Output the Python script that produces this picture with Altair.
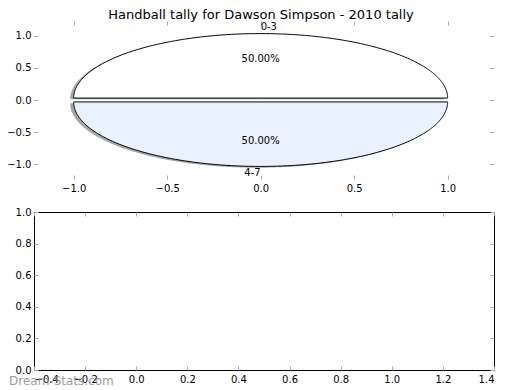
import math
import numpy as np
import pandas as pd
import altair as alt

# ---------------- data ----------------
TITLE = "Handball tally for Dawson Simpson - 2010 tally"
SLICE_LABELS = ["0-3", "4-7"]
SLICE_VALUES = [50, 50]
SLICE_COLORS = ["#ffffff", "#eaf1fe"]
EXPLODE = [0.03, 0.03]
PIE_X_TICKS = [-1.0, -0.5, 0.0, 0.5, 1.0]
PIE_Y_TICKS = [-1.0, -0.5, 0.0, 0.5, 1.0]
EMPTY_X_TICKS = [-0.4, -0.2, 0.0, 0.2, 0.4, 0.6, 0.8, 1.0, 1.2, 1.4]
EMPTY_Y_TICKS = [0.0, 0.2, 0.4, 0.6, 0.8, 1.0]
WATERMARK = "Dream-Stats.com"

# ---------------- styles ----------------
FONT = "DejaVu Sans"
TICK = "#aaaaaa"
W, H = 460, 158
PIE_X_DOMAIN = [-1.212, 1.248]
PIE_Y_DOMAIN = [-1.225, 1.225]

# wedge geometry (matplotlib-style: counter-clockwise from 0 degrees)
total = float(sum(SLICE_VALUES))
fracs = [v / total for v in SLICE_VALUES]
starts = np.concatenate([[0.0], np.cumsum(fracs)[:-1]])
area_rows, line_rows, lab_rows, pct_rows = [], [], [], []
for lab, f, s, ex in zip(SLICE_LABELS, fracs, starts, EXPLODE):
    t0, t1 = 2 * math.pi * s, 2 * math.pi * (s + f)
    mid = (t0 + t1) / 2
    cx, cy = ex * math.cos(mid), ex * math.sin(mid)
    ts = np.linspace(t0, t1, 241)
    for t in ts:
        area_rows.append(dict(slice=lab, x=cx + math.cos(t), y=cy + math.sin(t), y0=cy))
    pts = [(cx, cy)] + [(cx + math.cos(t), cy + math.sin(t)) for t in ts] + [(cx, cy)]
    for k, (px, py) in enumerate(pts):
        line_rows.append(dict(slice=lab, k=k, x=px, y=py))
    lx, ly = cx + 1.1 * math.cos(mid), cy + 1.1 * math.sin(mid)
    lab_rows.append(dict(slice=lab, x=lx, y=ly, side="left" if lx > 0 else "right"))
    pct_rows.append(dict(slice=lab, x=cx + 0.6 * math.cos(mid), y=cy + 0.6 * math.sin(mid),
                         txt=f"{100 * f:.2f}%"))

area_df = pd.DataFrame(area_rows)
line_df = pd.DataFrame(line_rows)
lab_df = pd.DataFrame(lab_rows)
pct_df = pd.DataFrame(pct_rows)


def axis(orient, values, labels=True, fmt=".1f"):
    return alt.Axis(orient=orient, values=values, format=fmt, title=None, grid=False,
                    domain=False, tickColor=TICK, tickSize=4, tickWidth=1, offset=-4,
                    labels=labels, labelPadding=4 if orient == "bottom" else 3,
                    labelFont=FONT, labelFontSize=10, labelColor="black")


pie_sx = alt.Scale(domain=PIE_X_DOMAIN, nice=False, zero=False)
pie_sy = alt.Scale(domain=PIE_Y_DOMAIN, nice=False, zero=False)
PX = alt.X("x:Q", scale=pie_sx, axis=axis("bottom", PIE_X_TICKS))
PY = alt.Y("y:Q", scale=pie_sy, axis=axis("left", PIE_Y_TICKS))
col = alt.Color("slice:N", scale=alt.Scale(domain=SLICE_LABELS, range=SLICE_COLORS), legend=None)

shadow = alt.Chart(area_df).mark_area(color="#4d4d4d", opacity=0.5, xOffset=-3.5,
                                      yOffset=1.3, y2Offset=1.3).encode(
    x=PX, y=PY, y2="y0:Q", detail="slice:N")
wedges = alt.Chart(area_df).mark_area(opacity=1).encode(x=PX, y=PY, y2="y0:Q", color=col)
outline = alt.Chart(line_df).mark_line(color="black", strokeWidth=1).encode(
    x=PX, y=PY, detail="slice:N", order="k:Q")
lab_left = alt.Chart(lab_df).transform_filter(alt.datum.side == "left").mark_text(
    align="left", baseline="middle", font=FONT, fontSize=10, color="black").encode(
    x=PX, y=PY, text="slice:N")
lab_right = alt.Chart(lab_df).transform_filter(alt.datum.side == "right").mark_text(
    align="right", baseline="middle", font=FONT, fontSize=10, color="black").encode(
    x=PX, y=PY, text="slice:N")
pct = alt.Chart(pct_df).mark_text(align="center", baseline="middle", font=FONT,
                                  fontSize=10, color="black").encode(x=PX, y=PY, text="txt:N")

pie_ticks = pd.DataFrame({"x": PIE_X_TICKS, "y": PIE_Y_TICKS})
pie_mirror = alt.Chart(pie_ticks).mark_point(opacity=0).encode(
    x=alt.X("x:Q", scale=pie_sx, axis=axis("top", PIE_X_TICKS, labels=False)),
    y=alt.Y("y:Q", scale=pie_sy, axis=axis("right", PIE_Y_TICKS, labels=False)))

pie_panel = alt.layer(
    alt.layer(shadow, wedges, outline, lab_left, lab_right, pct), pie_mirror
).resolve_scale(x="independent", y="independent").properties(
    width=W, height=H,
    title=alt.TitleParams(TITLE, font=FONT, fontSize=13, fontWeight="normal",
                          color="black", anchor="middle", offset=-1, dx=-3))

# ---------------- empty bottom panel ----------------
e_sx = alt.Scale(domain=[EMPTY_X_TICKS[0], EMPTY_X_TICKS[-1]], nice=False, zero=False)
e_sy = alt.Scale(domain=[EMPTY_Y_TICKS[0], EMPTY_Y_TICKS[-1]], nice=False, zero=False)
empty_df = pd.DataFrame({"x": pd.Series(EMPTY_X_TICKS), "y": pd.Series(EMPTY_Y_TICKS)})
empty_main = alt.Chart(empty_df).mark_point(opacity=0).encode(
    x=alt.X("x:Q", scale=e_sx, axis=axis("bottom", EMPTY_X_TICKS)),
    y=alt.Y("y:Q", scale=e_sy, axis=axis("left", EMPTY_Y_TICKS)))
wm = alt.Chart(pd.DataFrame({"t": [WATERMARK]})).mark_text(
    align="left", baseline="middle", font=FONT, fontSize=12, color="#8c8c8c",
    opacity=0.85).encode(text="t:N", x=alt.value(-25), y=alt.value(H + 11))
empty_mirror = alt.Chart(empty_df).mark_point(opacity=0).encode(
    x=alt.X("x:Q", scale=e_sx, axis=axis("top", EMPTY_X_TICKS, labels=False)),
    y=alt.Y("y:Q", scale=e_sy, axis=axis("right", EMPTY_Y_TICKS, labels=False)))

empty_panel = alt.layer(alt.layer(empty_main, wm), empty_mirror).resolve_scale(
    x="independent", y="independent").properties(
    width=W, height=H, view=alt.ViewBackground(stroke="black", strokeWidth=1))

chart = alt.vconcat(pie_panel, empty_panel, spacing=13).properties(
    padding={"left": -2, "top": 0, "right": 5, "bottom": 0},
    background="white",
).configure_view(stroke=None)

chart.save("out.html", embed_options={"renderer": "svg", "actions": False})
